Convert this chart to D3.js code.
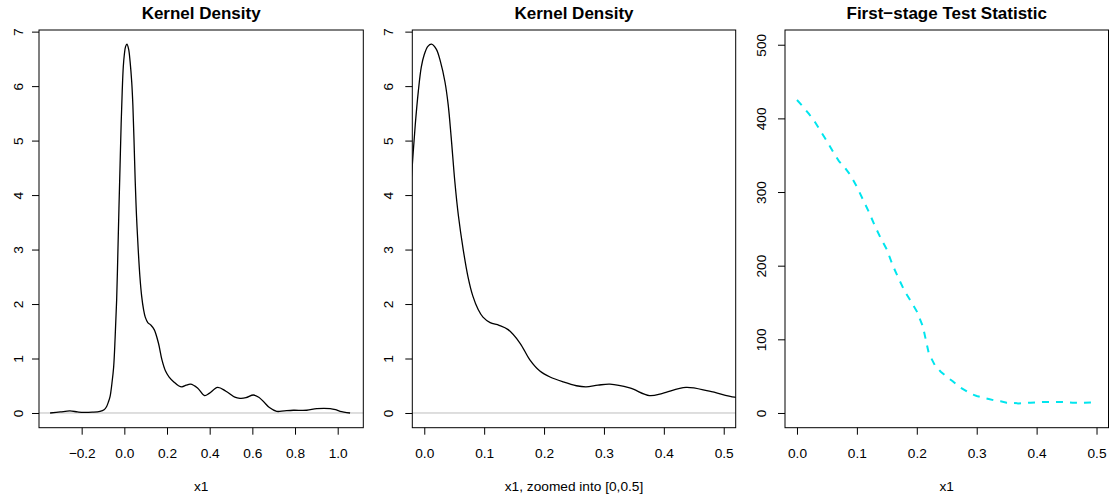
<!DOCTYPE html>
<html>
<head>
<meta charset="utf-8">
<script src="https://cdn.jsdelivr.net/npm/d3@7"></script>
<style>
  body { margin: 0; background: #fff; }
  svg { display: block; font-family: "Liberation Sans", Arial, Helvetica, sans-serif; }
</style>
</head>
<body>
<svg id="svg" width="1112" height="497"></svg>
<script>
// kernel density estimate of x1
const densityX = [-0.348, -0.30, -0.255, -0.22, -0.19, -0.15, -0.114, -0.095, -0.083, -0.075,
  -0.067, -0.058, -0.05, -0.043, -0.036, -0.03, -0.025, -0.02, -0.015, -0.01,
  -0.005, 0.0, 0.006, 0.012, 0.02, 0.027, 0.0345, 0.04, 0.045, 0.051,
  0.057, 0.065, 0.073, 0.081, 0.09, 0.098, 0.11, 0.125, 0.14, 0.16,
  0.176, 0.193, 0.21, 0.232, 0.254, 0.27, 0.29, 0.31, 0.343, 0.376,
  0.398, 0.437, 0.476, 0.518, 0.542, 0.57, 0.605, 0.63, 0.652, 0.68,
  0.714, 0.75, 0.792, 0.855, 0.902, 0.965, 0.99, 1.011, 1.058];
const densityY = [0.0, 0.02, 0.037, 0.02, 0.01, 0.015, 0.03, 0.06, 0.12, 0.2,
  0.3, 0.55, 0.85, 1.4, 2.08, 3.0, 3.8, 4.55, 5.3, 5.9,
  6.35, 6.58, 6.73, 6.77, 6.68, 6.45, 6.08, 5.65, 5.05, 4.25,
  3.62, 3.0, 2.5, 2.15, 1.9, 1.76, 1.66, 1.61, 1.53, 1.28,
  0.98, 0.77, 0.66, 0.57, 0.5, 0.48, 0.51, 0.53, 0.46, 0.32,
  0.36, 0.47, 0.4, 0.29, 0.27, 0.28, 0.33, 0.29, 0.21, 0.1,
  0.03, 0.04, 0.05, 0.05, 0.08, 0.08, 0.06, 0.03, 0.0];

// first-stage test statistic over x1
const statX = [0.00, 0.01, 0.02, 0.03, 0.04, 0.05, 0.06, 0.07, 0.08, 0.09,
  0.10, 0.11, 0.12, 0.13, 0.14, 0.15, 0.16, 0.17, 0.18, 0.19,
  0.20, 0.21, 0.22, 0.23, 0.24, 0.25, 0.26, 0.27, 0.28, 0.29,
  0.30, 0.31, 0.32, 0.33, 0.34, 0.35, 0.36, 0.37, 0.38, 0.39,
  0.40, 0.41, 0.42, 0.43, 0.44, 0.45, 0.46, 0.47, 0.48, 0.49, 0.50];
const statY = [425, 416, 406, 395, 382, 369, 355, 342, 333, 322,
  307, 290, 273, 254, 237, 222, 200, 182, 165, 152,
  138, 118, 81, 65, 56, 49, 43, 36, 31, 26,
  23, 21, 19, 17, 16, 14, 13.5, 13, 13.5, 14,
  14.5, 15, 15, 15, 15, 14.5, 14, 13.8, 14, 14.2, 14.5];

const densityTicksX = [-0.2, 0.0, 0.2, 0.4, 0.6, 0.8, 1.0];
const zoomTicksX = [0.0, 0.1, 0.2, 0.3, 0.4, 0.5];
const densityTicksY = [0, 1, 2, 3, 4, 5, 6, 7];
const statTicksY = [0, 100, 200, 300, 400, 500];

const titles = ['Kernel Density', 'Kernel Density', 'First\u2212stage Test Statistic'];
const xLabels = ['x1', 'x1, zoomed into [0,0.5]', 'x1'];

const densityData = densityX.map((d, i) => ({x: d, y: densityY[i]}));
const statData = statX.map((d, i) => ({x: d, y: statY[i]}));

const plotTop = 30, plotBottom = 427.7;
const smooth = d3.curveCatmullRom.alpha(0.5);

const panels = [
  {left: 39, right: 363.3, xDomain: [-0.4, 1.12], yDomain: [-0.27, 7.03],
   xTicks: densityTicksX, yTicks: densityTicksY, xFmt: d3.format('.1f'), yFmt: d3.format('d'),
   data: densityData, stroke: '#000', width: 1.3, dash: null, curve: smooth,
   zeroLine: true, labelOff: 16.3, title: titles[0], xLabel: xLabels[0]},
  {left: 412.3, right: 735.7, xDomain: [-0.02, 0.52], yDomain: [-0.27, 7.03],
   xTicks: zoomTicksX, yTicks: densityTicksY, xFmt: d3.format('.1f'), yFmt: d3.format('d'),
   data: densityData, stroke: '#000', width: 1.3, dash: null, curve: smooth,
   zeroLine: true, labelOff: 19.6, title: titles[1], xLabel: xLabels[1]},
  {left: 785, right: 1108.5, xDomain: [-0.02, 0.52], yDomain: [-20, 520],
   xTicks: zoomTicksX, yTicks: statTicksY, xFmt: d3.format('.1f'), yFmt: d3.format('d'),
   data: statData, stroke: '#00E5EE', width: 2, dash: '7,7', curve: d3.curveLinear,
   zeroLine: false, labelOff: 19, title: titles[2], xLabel: xLabels[2]}
];

const svg = d3.select('#svg');

panels.forEach((p, i) => {
  const x = d3.scaleLinear().domain(p.xDomain).range([p.left, p.right]);
  const y = d3.scaleLinear().domain(p.yDomain).range([plotBottom, plotTop]);
  const g = svg.append('g').attr('class', 'panel');

  g.append('clipPath').attr('id', 'clip' + i)
    .append('rect')
    .attr('x', p.left).attr('y', plotTop)
    .attr('width', p.right - p.left).attr('height', plotBottom - plotTop);

  if (p.zeroLine) {
    g.append('line')
      .attr('x1', p.left).attr('x2', p.right)
      .attr('y1', y(0)).attr('y2', y(0))
      .attr('stroke', '#bebebe').attr('stroke-width', 1);
  }

  const line = d3.line().x(d => x(d.x)).y(d => y(d.y)).curve(p.curve);
  g.append('path')
    .datum(p.data)
    .attr('clip-path', `url(#clip${i})`)
    .attr('d', line)
    .attr('fill', 'none')
    .attr('stroke', p.stroke)
    .attr('stroke-width', p.width)
    .attr('stroke-dasharray', p.dash);

  // x axis
  const xAxisG = g.append('g')
    .attr('transform', `translate(0,${plotBottom})`)
    .call(d3.axisBottom(x).tickValues(p.xTicks).tickFormat(p.xFmt).tickSize(7).tickSizeOuter(0));
  xAxisG.select('path.domain').remove();
  xAxisG.selectAll('line').attr('stroke', '#000');
  xAxisG.selectAll('text')
    .attr('y', 30.6).attr('dy', 0)
    .attr('fill', '#000')
    .style('font-size', '13.7px');

  // y axis, labels parallel to the axis
  const yAxisG = g.append('g')
    .attr('transform', `translate(${p.left},0)`)
    .call(d3.axisLeft(y).tickValues(p.yTicks).tickFormat(p.yFmt).tickSize(7).tickSizeOuter(0));
  yAxisG.select('path.domain').remove();
  yAxisG.selectAll('line').attr('stroke', '#000');
  yAxisG.selectAll('text')
    .attr('x', 0).attr('dy', 0)
    .attr('text-anchor', 'middle')
    .attr('transform', `translate(${-p.labelOff},0) rotate(-90)`)
    .attr('fill', '#000')
    .style('font-size', '13.7px');

  g.append('rect')
    .attr('x', p.left).attr('y', plotTop)
    .attr('width', p.right - p.left).attr('height', plotBottom - plotTop)
    .attr('fill', 'none').attr('stroke', '#000').attr('stroke-width', 1);

  g.append('text')
    .attr('x', (p.left + p.right) / 2).attr('y', 18.5)
    .attr('text-anchor', 'middle')
    .style('font-size', '17px').style('font-weight', 'bold')
    .text(p.title);

  g.append('text')
    .attr('x', (p.left + p.right) / 2).attr('y', 491)
    .attr('text-anchor', 'middle')
    .style('font-size', '13.7px')
    .text(p.xLabel);
});
</script>
</body>
</html>
